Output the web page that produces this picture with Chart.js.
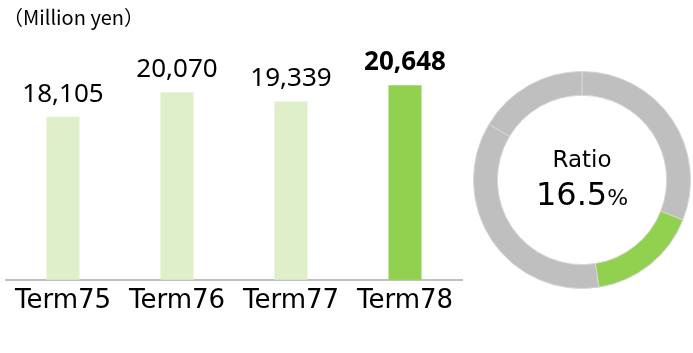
<!DOCTYPE html>
<html>
<head>
<meta charset="utf-8">
<script src="https://cdn.jsdelivr.net/npm/chart.js@4/dist/chart.umd.min.js"></script>
<style>
  html, body { margin: 0; padding: 0; background: #fff; }
  body { width: 693px; height: 353px; position: relative; overflow: hidden; }
  #barBox { position: absolute; left: 0; top: 0; width: 470px; height: 353px; }
  #ratioBox { position: absolute; left: 472px; top: 70px; width: 220px; height: 220px; }
</style>
</head>
<body>
<div id="barBox"><canvas id="barChart"></canvas></div>
<div id="ratioBox"><canvas id="ratioChart"></canvas></div>
<script>
const terms = ["Term75", "Term76", "Term77", "Term78"];
const sales = [18105, 20070, 19339, 20648];
const barColors = ["#dfefca", "#dfefca", "#dfefca", "#92d050"];
const unitLabel = "（Million yen）";

// ring: grey / green (ratio) / grey / grey
const ringValues = [31.0, 16.5, 36.1, 16.4];
const ringColors = ["#bfbfbf", "#92d050", "#bfbfbf", "#bfbfbf"];
const ratioTitle = "Ratio";
const ratioValue = "16.5";

Chart.defaults.animation = false;

const barLabels = {
  id: "barLabels",
  afterDatasetsDraw(chart) {
    const ctx = chart.ctx;
    ctx.save();
    ctx.fillStyle = "#000";
    ctx.textBaseline = "alphabetic";
    ctx.textAlign = "left";
    ctx.font = "20px 'Noto Sans CJK JP'";
    ctx.fillText(unitLabel, 3, 25);
    ctx.textAlign = "center";
    const meta = chart.getDatasetMeta(0);
    meta.data.forEach((bar, i) => {
      const last = i === sales.length - 1;
      ctx.font = (last ? "bold " : "") + "26px 'Noto Sans'";
      ctx.fillText(sales[i].toLocaleString("en-US"), bar.x, bar.y - 15);
    });
    ctx.restore();
  }
};

new Chart(document.getElementById("barChart"), {
  type: "bar",
  data: {
    labels: terms,
    datasets: [{
      data: sales,
      backgroundColor: barColors,
      barPercentage: 0.29,
      categoryPercentage: 1
    }]
  },
  options: {
    responsive: true,
    maintainAspectRatio: false,
    layout: { padding: { left: 6, right: 8, top: 31, bottom: 30 } },
    plugins: { legend: { display: false }, tooltip: { enabled: false } },
    scales: {
      x: {
        grid: { display: false, drawTicks: false },
        border: { display: true, color: "#bfbfbf", width: 2 },
        ticks: {
          color: "#000",
          padding: 6,
          font: { family: "'DejaVu Sans'", size: 26 }
        }
      },
      y: { display: false, min: 5000, max: 25000 }
    }
  },
  plugins: [barLabels]
});

const centerText = {
  id: "centerText",
  afterDraw(chart) {
    const ctx = chart.ctx;
    const a = chart.chartArea;
    const cx = (a.left + a.right) / 2;
    const cy = (a.top + a.bottom) / 2;
    ctx.save();
    ctx.fillStyle = "#000";
    ctx.textBaseline = "alphabetic";
    ctx.textAlign = "center";
    ctx.font = "23px 'DejaVu Sans'";
    ctx.fillText(ratioTitle, cx, cy - 13);
    ctx.font = "32px 'DejaVu Sans'";
    const w1 = ctx.measureText(ratioValue).width;
    ctx.font = "22px 'DejaVu Sans'";
    const w2 = ctx.measureText("%").width;
    const x0 = cx - (w1 + w2) / 2;
    ctx.textAlign = "left";
    ctx.font = "32px 'DejaVu Sans'";
    ctx.fillText(ratioValue, x0, cy + 25);
    ctx.font = "22px 'DejaVu Sans'";
    ctx.fillText("%", x0 + w1, cy + 25);
    ctx.restore();
  }
};

new Chart(document.getElementById("ratioChart"), {
  type: "doughnut",
  data: {
    datasets: [{
      data: ringValues,
      backgroundColor: ringColors,
      borderColor: "#d6d6d6",
      borderWidth: 1
    }]
  },
  options: {
    responsive: true,
    maintainAspectRatio: false,
    cutout: "78%",
    layout: { padding: 1 },
    plugins: { legend: { display: false }, tooltip: { enabled: false } }
  },
  plugins: [centerText]
});
</script>
</body>
</html>
